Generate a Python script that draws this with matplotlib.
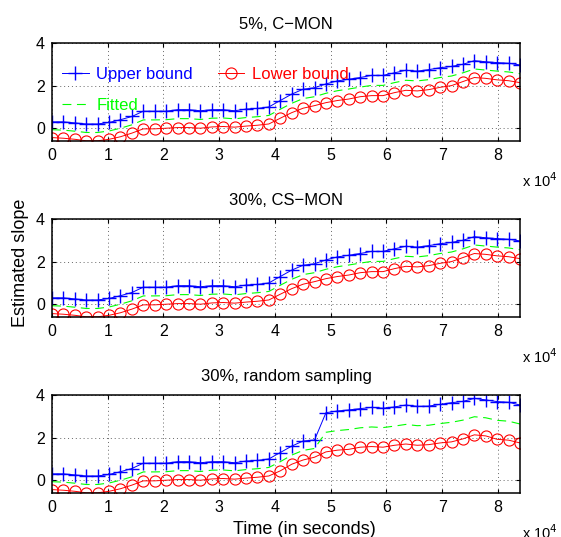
import numpy as np
import matplotlib
matplotlib.use("Agg")
import matplotlib.pyplot as plt

plt.rcParams['font.family'] = ['Liberation Sans', 'DejaVu Sans']

# time samples (seconds)
time_s = [i * 2048 for i in range(42)]

upper_a = [0.30, 0.30, 0.25, 0.20, 0.20, 0.27, 0.40, 0.55, 0.80, 0.80, 0.80, 0.87, 0.87, 0.82,
           0.87, 0.87, 0.82, 0.90, 0.93, 1.00, 1.30, 1.60, 1.83, 1.90, 2.08, 2.22, 2.30, 2.38,
           2.48, 2.48, 2.60, 2.72, 2.68, 2.75, 2.84, 2.90, 3.00, 3.17, 3.12, 3.08, 3.05, 2.97]
lower_a = [-0.44, -0.47, -0.52, -0.59, -0.59, -0.52, -0.40, -0.23, -0.03, -0.03, 0.00, 0.03,
           0.03, 0.00, 0.06, 0.08, 0.05, 0.10, 0.14, 0.20, 0.47, 0.73, 0.94, 1.06, 1.20, 1.30,
           1.37, 1.48, 1.53, 1.53, 1.67, 1.78, 1.75, 1.81, 1.92, 2.00, 2.19, 2.38, 2.34, 2.27,
           2.23, 2.14]
fitted_a = [-0.07, -0.09, -0.14, -0.20, -0.20, -0.13, 0.00, 0.16, 0.39, 0.39, 0.40, 0.45,
            0.45, 0.41, 0.47, 0.48, 0.44, 0.50, 0.54, 0.60, 0.89, 1.17, 1.39, 1.48, 1.64, 1.76,
            1.84, 1.93, 2.01, 2.01, 2.14, 2.25, 2.22, 2.28, 2.38, 2.45, 2.60, 2.78, 2.73, 2.68,
            2.64, 2.56]

upper_c = [0.30, 0.30, 0.25, 0.20, 0.20, 0.27, 0.40, 0.55, 0.80, 0.80, 0.80, 0.87, 0.87, 0.82,
           0.87, 0.87, 0.82, 0.90, 0.93, 1.00, 1.30, 1.60, 1.84, 1.89, 3.17, 3.25, 3.30, 3.36,
           3.42, 3.38, 3.44, 3.53, 3.47, 3.48, 3.56, 3.64, 3.70, 3.84, 3.77, 3.69, 3.66, 3.53]
lower_c = [-0.44, -0.47, -0.52, -0.59, -0.59, -0.52, -0.40, -0.23, -0.03, -0.03, 0.00, 0.03,
           0.03, 0.00, 0.06, 0.08, 0.05, 0.10, 0.14, 0.20, 0.44, 0.75, 0.95, 1.08, 1.33, 1.41,
           1.45, 1.55, 1.58, 1.55, 1.64, 1.70, 1.64, 1.67, 1.75, 1.80, 1.94, 2.13, 2.08, 1.92,
           1.88, 1.75]
fitted_c = [-0.07, -0.09, -0.14, -0.20, -0.20, -0.13, 0.00, 0.16, 0.39, 0.39, 0.40, 0.45,
            0.45, 0.41, 0.47, 0.48, 0.44, 0.50, 0.54, 0.60, 0.87, 1.18, 1.40, 1.49, 2.25, 2.33,
            2.38, 2.46, 2.50, 2.47, 2.54, 2.62, 2.56, 2.58, 2.66, 2.72, 2.82, 2.98, 2.93, 2.81,
            2.77, 2.64]

titles = ["5%, C\u2212MON", "30%, CS\u2212MON", "30%, random sampling"]
panels = [(upper_a, lower_a, fitted_a), (upper_a, lower_a, fitted_a), (upper_c, lower_c, fitted_c)]
xticks = [0, 10000, 20000, 30000, 40000, 50000, 60000, 70000, 80000]
xtick_labels = ["0", "1", "2", "3", "4", "5", "6", "7", "8"]
yticks = [0, 2, 4]

fig = plt.figure(figsize=(5.61, 5.37), dpi=100)
W, H = 561, 537
tops = [43, 219, 395]
bottoms = [141, 317, 493]
left, right = 52, 520

blue = '#0000ff'
red = '#ff0000'
green = '#00ff00'

for k in range(3):
    ax = fig.add_axes([left / W, 1 - bottoms[k] / H, (right - left) / W, (bottoms[k] - tops[k]) / H])
    up, lo, fi = panels[k]
    l1, = ax.plot(time_s, up, '-', color=blue, marker='+', markersize=10, markeredgewidth=1.0,
                  linewidth=0.7, label='Upper bound')
    l3, = ax.plot(time_s, fi, '--', color=green, linewidth=0.8, dashes=(8, 5), label='Fitted')
    l2, = ax.plot(time_s, lo, '-', color=red, marker='o', markersize=8, markerfacecolor='none',
                  markeredgewidth=0.8, linewidth=0.7, label='Lower bound')
    ax.set_xlim(0, 83968)
    ax.set_ylim(-0.6, 4)
    ax.set_xticks(xticks)
    ax.set_xticklabels(xtick_labels)
    ax.set_yticks(yticks)
    ax.grid(True, linestyle=(0, (1, 3)), color='#666666', linewidth=0.7)
    ax.tick_params(direction='in', length=3, top=True, right=True, labelsize=11.5, pad=5)
    for s in ax.spines.values():
        s.set_linewidth(1.1)
    ax.set_title(titles[k], fontsize=12, pad=10)
    fig.text(522 / W, 1 - (bottoms[k] + 46) / H, "x 10$^4$", fontsize=10.5, ha='left', va='baseline')
    if k == 0:
        leg = ax.legend(handles=[l1, l3, l2], ncol=2, frameon=False, loc='upper left',
                        bbox_to_anchor=(0.0, 0.86), fontsize=12, handlelength=1.6,
                        labelspacing=0.95, columnspacing=1.5, handletextpad=0.45,
                        borderaxespad=0.2)
        for txt, col in zip(leg.get_texts(), [blue, green, red]):
            txt.set_color(col)

fig.text(21 / W, 1 - 263 / H, "Estimated slope", fontsize=13, rotation=90,
         ha='center', va='center')
fig.text(304 / W, 1 - 534 / H, "Time (in seconds)", fontsize=13, ha='center', va='baseline')

fig.savefig("out.png", dpi=100)
